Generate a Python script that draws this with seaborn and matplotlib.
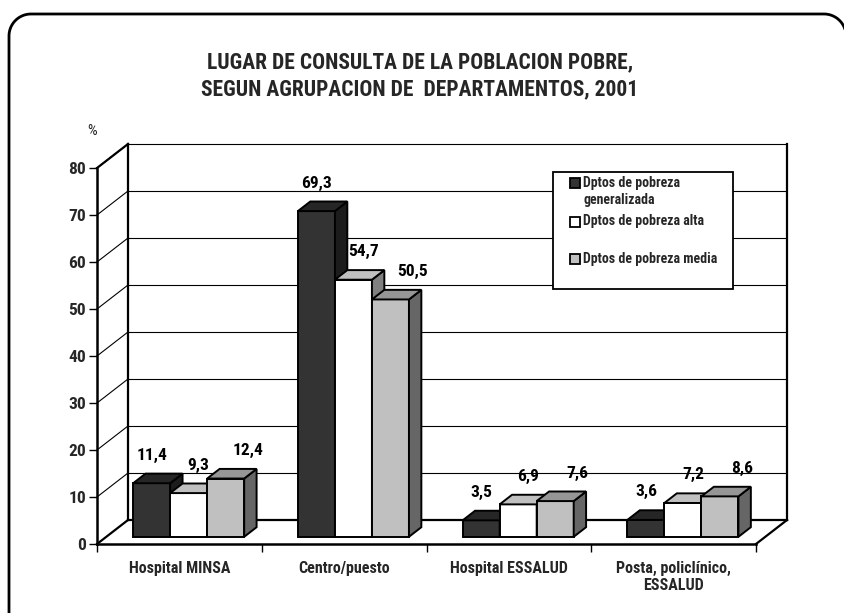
import os
import numpy as np
import pandas as pd
import matplotlib
matplotlib.use("Agg")
import matplotlib.pyplot as plt
from matplotlib import transforms
from matplotlib import font_manager as fm
from matplotlib.lines import Line2D
from matplotlib.patches import Polygon, Rectangle
import seaborn as sns

# ---- data -------------------------------------------------------------
categories = ["Hospital MINSA", "Centro/puesto", "Hospital ESSALUD",
              "Posta, policlínico,\nESSALUD"]
series_names = ["Dptos de pobreza\ngeneralizada", "Dptos de pobreza alta",
                "Dptos de pobreza media"]
pobreza_generalizada = [11.4, 69.3, 3.5, 3.6]
pobreza_alta = [9.3, 54.7, 6.9, 7.2]
pobreza_media = [12.4, 50.5, 7.6, 8.6]
y_ticks = [0, 10, 20, 30, 40, 50, 60, 70, 80]

title = ("LUGAR DE CONSULTA DE LA POBLACION POBRE,\n"
         "SEGUN AGRUPACION DE  DEPARTAMENTOS, 2001")

# ---- styling ----------------------------------------------------------
front_colors = ["#333333", "#ffffff", "#c0c0c0"]
top_colors = ["#262626", "#c0c0c0", "#969696"]
side_colors = ["#1c1c1c", "#808080", "#666666"]

sns.set_theme(style="white")


def narrow_bold_font():
    """Find an installed condensed/narrow bold face; returns (family, stretch)."""
    prefs = ["liberationsansnarrow", "arialnarrow", "robotocondensed",
             "notosans-condensed", "notosanscondensed", "dejavusanscondensed",
             "opensans-condensed", "opensans_condensed", "opensanscondensed"]
    found = []
    for f in fm.fontManager.ttflist:
        base = os.path.basename(f.fname).lower()
        if ("narrow" in base or "condensed" in base) and "bold" in base \
                and "semi" not in base and "extra" not in base and "italic" not in base:
            rank = next((i for i, p in enumerate(prefs) if base.startswith(p)), len(prefs))
            found.append((rank, f))
    if not found:
        return None
    found.sort(key=lambda t: t[0])
    f = found[0][1]
    return f.name, f.stretch


picked = narrow_bold_font()
if picked:
    FAMILY = [picked[0], "Liberation Sans", "DejaVu Sans"]
    plt.rcParams["font.stretch"] = picked[1]
    SCALE = 1.0
else:
    FAMILY = ["Liberation Sans", "DejaVu Sans"]
    SCALE = 0.88
plt.rcParams["font.family"] = FAMILY
plt.rcParams["font.weight"] = "bold"

W, H = 844, 613
fig = plt.figure(figsize=(W / 100, H / 100), dpi=100)
fig.patch.set_facecolor("white")
# pixel coordinates, origin at top-left
pxT = transforms.Affine2D().scale(1 / W, -1 / H).translate(0, 1) + fig.transFigure

# front plane of the plot: x from 97 to 756 px, y=0 at 544 px, y=80 at 168 px
ax = fig.add_axes([97 / W, 1 - 544 / H, 659 / W, 376 / H])

rows = []
for name, vals in zip(series_names, [pobreza_generalizada, pobreza_alta, pobreza_media]):
    for cat, v in zip(categories, vals):
        rows.append({"lugar": cat, "pct": v, "grupo": name})
df = pd.DataFrame(rows)

GROUP_W = 0.674
sns.barplot(data=df, x="lugar", y="pct", hue="grupo", order=categories,
            hue_order=series_names, palette=front_colors, saturation=1,
            width=GROUP_W, gap=0, edgecolor="black", linewidth=1.4,
            legend=False, errorbar=None, ax=ax)

ax.set_xlim(-0.5, 3.5)
ax.set_ylim(0, 80)
ax.set_xlabel("")
ax.set_ylabel("")
ax.set_facecolor("none")

# depth vector of the pseudo-3D box (31 px right, 24 px up) in data units
px_x = 4 / 659.0
px_y = 80 / 376.0
DX, DY = 31 * px_x, 24 * px_y
X0, X1 = -0.5, 3.5

wall_kw = dict(color="black", lw=1.6, clip_on=False, zorder=2, solid_capstyle="projecting")
grid_kw = dict(color="black", lw=0.8, clip_on=False, zorder=1.5)

# back wall and left wall gridlines
for t in y_ticks[1:]:
    ax.plot([X0 + DX, X1 + DX], [t + DY, t + DY], **grid_kw)
    ax.plot([X0, X0 + DX], [t, t + DY], **grid_kw)
# wall and floor edges
ax.plot([X0 + DX, X0 + DX], [DY, 80 + DY], **wall_kw)
ax.plot([X1 + DX, X1 + DX], [DY, 80 + DY], **wall_kw)
ax.plot([X0, X0 + DX], [80, 80 + DY], **wall_kw)
ax.plot([X0 + DX, X1 + DX], [DY, DY], **wall_kw)
ax.plot([X0, X0 + DX], [0, DY], **wall_kw)
ax.plot([X1, X1 + DX], [0, DY], **wall_kw)

# extrude each bar: shift the front face into the box and add top/side faces
bars = [p for p in ax.patches if isinstance(p, Rectangle)]
bar_w = GROUP_W / len(series_names)
label_dx = [0 * px_x, 10 * px_x, 22 * px_x]
label_dy = 28 * px_y
F0, FD = 0.3, 0.4  # bar front depth and bar depth as fraction of the box
for k, p in enumerate(sorted(bars, key=lambda b: b.get_x())):
    x, w, h = p.get_x(), p.get_width(), p.get_height()
    cx = x + w / 2
    s = int(round((cx - round(cx)) / bar_w)) + 1
    x0 = x + F0 * DX
    y0 = F0 * DY
    ddx, ddy = FD * DX, FD * DY
    z = 5 + 0.1 * k
    p.set_x(x0)
    p.set_y(y0)
    p.set_zorder(z)
    side = Polygon([(x0 + w, y0), (x0 + w + ddx, y0 + ddy),
                    (x0 + w + ddx, y0 + h + ddy), (x0 + w, y0 + h)],
                   closed=True, facecolor=side_colors[s], edgecolor="black",
                   lw=1.4, zorder=z, joinstyle="miter")
    top = Polygon([(x0, y0 + h), (x0 + ddx, y0 + h + ddy),
                   (x0 + w + ddx, y0 + h + ddy), (x0 + w, y0 + h)],
                  closed=True, facecolor=top_colors[s], edgecolor="black",
                  lw=1.4, zorder=z, joinstyle="miter")
    ax.add_patch(side)
    ax.add_patch(top)
    ax.text(x0 + w / 2 + label_dx[s], y0 + h + label_dy,
            f"{h:.1f}".replace(".", ","), ha="center", va="center",
            fontsize=12.5 * SCALE, fontweight="bold", color="black", zorder=20)

# axes: front edges
for sp in ["top", "right"]:
    ax.spines[sp].set_visible(False)
for sp in ["left", "bottom"]:
    ax.spines[sp].set_color("black")
    ax.spines[sp].set_linewidth(1.8)
    ax.spines[sp].set_zorder(3)

ax.set_yticks(y_ticks)
ax.set_yticklabels([str(t) for t in y_ticks])
ax.tick_params(axis="y", direction="out", length=6, width=1, color="black",
               left=True, labelsize=12.5 * SCALE, pad=2)
ax.set_xticks(np.arange(-0.5, len(categories), 1.0))
ax.set_xticklabels([""] * (len(categories) + 1))
ax.set_xticks(np.arange(len(categories)), minor=True)
ax.set_xticklabels(categories, minor=True, fontsize=11.5 * SCALE, fontweight="bold",
                   linespacing=1.2)
ax.tick_params(axis="x", which="major", direction="out", length=6, width=1,
               color="black", bottom=True)
ax.tick_params(axis="x", which="minor", length=0, pad=12, bottom=True)
ax.grid(False)

# legend box
fig.add_artist(Rectangle((553, 172), 180, 117, transform=pxT, facecolor="white",
                         edgecolor="black", lw=1.3, zorder=30))
legend_y = [183, 222, 259]
for name, col, yy in zip(series_names, front_colors, legend_y):
    fig.add_artist(Rectangle((570, yy - 5), 10, 10, transform=pxT, facecolor=col,
                             edgecolor="black", lw=1.3, zorder=31))
    fig.text(583, yy - 7.5, name, transform=pxT, ha="left", va="top",
             fontsize=10 * SCALE, fontweight="bold", linespacing=1.3, zorder=31)

# title and unit
fig.text(420, 76, title, transform=pxT, ha="center", va="center",
         fontsize=15.5 * SCALE, fontweight="bold", linespacing=1.3)
fig.text(92, 131, "%", transform=pxT, ha="center", va="center",
         fontsize=11, fontweight="normal")

# rounded outer frame (left, top and top-right corner; the rest runs off the page)
R = 22
L, T, RGT, BOT = 9, 14, 846, 640
a1 = np.linspace(np.pi, 1.5 * np.pi, 20)
a2 = np.linspace(1.5 * np.pi, 2 * np.pi, 20)
fx = np.concatenate([[L], L + R + R * np.cos(a1), RGT - R + R * np.cos(a2), [RGT]])
fy = np.concatenate([[BOT], T + R + R * np.sin(a1), T + R + R * np.sin(a2), [BOT]])
fig.add_artist(Line2D(fx, fy, transform=pxT, color="black", lw=2,
                      solid_joinstyle="round", zorder=40))

fig.savefig("out.png", dpi=100)
